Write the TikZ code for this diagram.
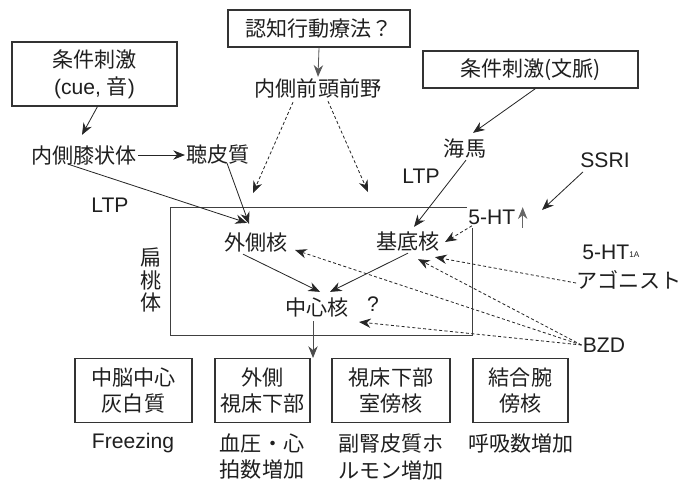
\documentclass[tikz,border=0pt]{standalone}
\usepackage{fontspec}
\setmainfont{Noto Sans CJK JP}
\newfontfamily\lat{Liberation Sans}
\usetikzlibrary{arrows.meta}
\begin{document}
\begin{tikzpicture}[x=0.3mm,y=-0.3mm,
  every node/.style={font=\fontsize{18}{23}\selectfont, text=black!88, inner sep=1pt},
  latin/.style={font=\fontsize{18}{23}\selectfont\lat},
  box/.style={draw=black!80, line width=0.9pt, align=center, inner sep=0pt},
  frameline/.style={draw=black!75, line width=0.8pt},
  arr/.style={-{Stealth[length=10pt,width=8pt]}, line width=0.7pt, draw=black!85},
  darr/.style={arr, dash pattern=on 2.6pt off 2pt},
]
\useasboundingbox (0,0) rectangle (683,480);

% top boxes
\node[box, minimum width=49.5mm, minimum height=19.2mm] (cue) at (94.5,74) {条件刺激\\{\lat (cue, }音{\lat )}};
\node[box, minimum width=54.6mm, minimum height=11.1mm] (cbt) at (319,28.5) {認知行動療法？};
\node[box, minimum width=64.5mm, minimum height=11.1mm] (ctx) at (530.5,69.5) {条件刺激(文脈)};

% text nodes
\node (pfc) at (318,88) {内側前頭前野};
\node (mgb) at (84,155) {内側膝状体};
\node (ac) at (218,155) {聴皮質};
\node[latin] (ltpa) at (110,205) {LTP};
\node (hip) at (465,148) {海馬};
\node[latin] (ltpb) at (421,176) {LTP};
\node[latin] (ssri) at (605,160) {SSRI};
\node[latin, anchor=west] (ht) at (467,217) {5-HT};
\node[latin, anchor=west] (hta) at (581,252) {5-HT\raisebox{1.5pt}{\fontsize{7}{8}\selectfont 1A}};
\node[anchor=east, inner sep=0pt] (ago) at (682,280) {アゴニスト};
\node[latin] (bzd) at (604,345) {BZD};

% amygdala frame
\node[minimum width=90.6mm, minimum height=38.4mm, inner sep=0pt] (amy) at (321.5,271.5) {};
\draw[frameline] ([shift={(-6,0)}]amy.north east) -- (amy.north west) -- (amy.south west)
  -- (amy.south east) -- ([shift={(0,21)}]amy.north east);
\node[align=center, font=\fontsize{18}{19}\selectfont] (amyl) at (151,280) {扁\\桃\\体};

\node (lat) at (256,242) {外側核};
\node (bas) at (408,242) {基底核};
\node (cen) at (317,308) {中心核};
\node[latin] (q) at (373,304) {?};

% bottom boxes
\node[box, minimum width=35.1mm, minimum height=19.2mm] (b1) at (133.5,390.5) {中脳中心\\灰白質};
\node[box, minimum width=28.5mm, minimum height=19.2mm] (b2) at (262.5,390.5) {外側\\視床下部};
\node[box, minimum width=35.4mm, minimum height=19.2mm] (b3) at (391,390.5) {視床下部\\室傍核};
\node[box, minimum width=28.5mm, minimum height=19.2mm] (b4) at (520.5,390.5) {結合腕\\傍核};

\node[latin] (fr) at (133,443) {Freezing};
\node[align=center] (bp) at (262,456.5) {血圧・心\\拍数増加};
\node[align=center] (acth) at (391,456.5) {副腎皮質ホ\\ルモン増加};
\node (resp) at (521,443) {呼吸数増加};

% free ends
\coordinate (pfcl) at (253,193);
\coordinate (pfcr) at (368,192);
\coordinate (ssriend) at (542,210);

% connectors
\draw[arr] ([shift={(3,0)}]cue.south) -- ([shift={(-2,-9)}]mgb.north);
\draw[arr] (mgb.east) -- (ac.west);
\draw[arr] ([shift={(-16,-2)}]mgb.south) -- ([shift={(-9,-8)}]lat.north);
\draw[arr] ([shift={(9,-3)}]ac.south) -- ([shift={(-7,-7)}]lat.north);
\draw[arr, draw=black!65] (cbt.south) -- (pfc.north);
\draw[darr] ([shift={(-25,3)}]pfc.south) -- (pfcl);
\draw[darr] ([shift={(10,2)}]pfc.south) -- (pfcr);
\draw[arr] ([shift={(5,0)}]ctx.south) -- ([shift={(8,-4)}]hip.north);
\draw[arr] ([shift={(1,1)}]hip.south) -- ([shift={(6,-4)}]bas.north);
\draw[arr] ([shift={(-22,3)}]ssri.south) -- (ssriend);
\draw[arr, draw=black!60] ([shift={(6,2)}]ht.south east) -- ([shift={(6,-1)}]ht.north east);
\draw[darr] ([shift={(5,0)}]ht.south west) -- ([shift={(4,0)}]bas.east);
\draw[arr] ([shift={(-13,1)}]lat.south) -- ([shift={(3,-5)}]cen.north);
\draw[arr] (bas.south) -- ([shift={(13,-5)}]cen.north);
\coordinate (cdn) at ([shift={(-4,2)}]cen.south);
\draw[arr, draw=black!70] (cdn) -- (cdn |- b2.north);
\draw[darr] (bzd.west) -- ([shift={(6,8)}]lat.east);
\draw[darr] (bzd.west) -- ([shift={(10,6)}]bas.south);
\draw[darr] (bzd.west) -- ([shift={(9,14)}]cen.east);
\draw[darr] ([shift={(0,3)}]ago.west) -- ([shift={(27,4)}]bas.south);
\end{tikzpicture}
\end{document}
